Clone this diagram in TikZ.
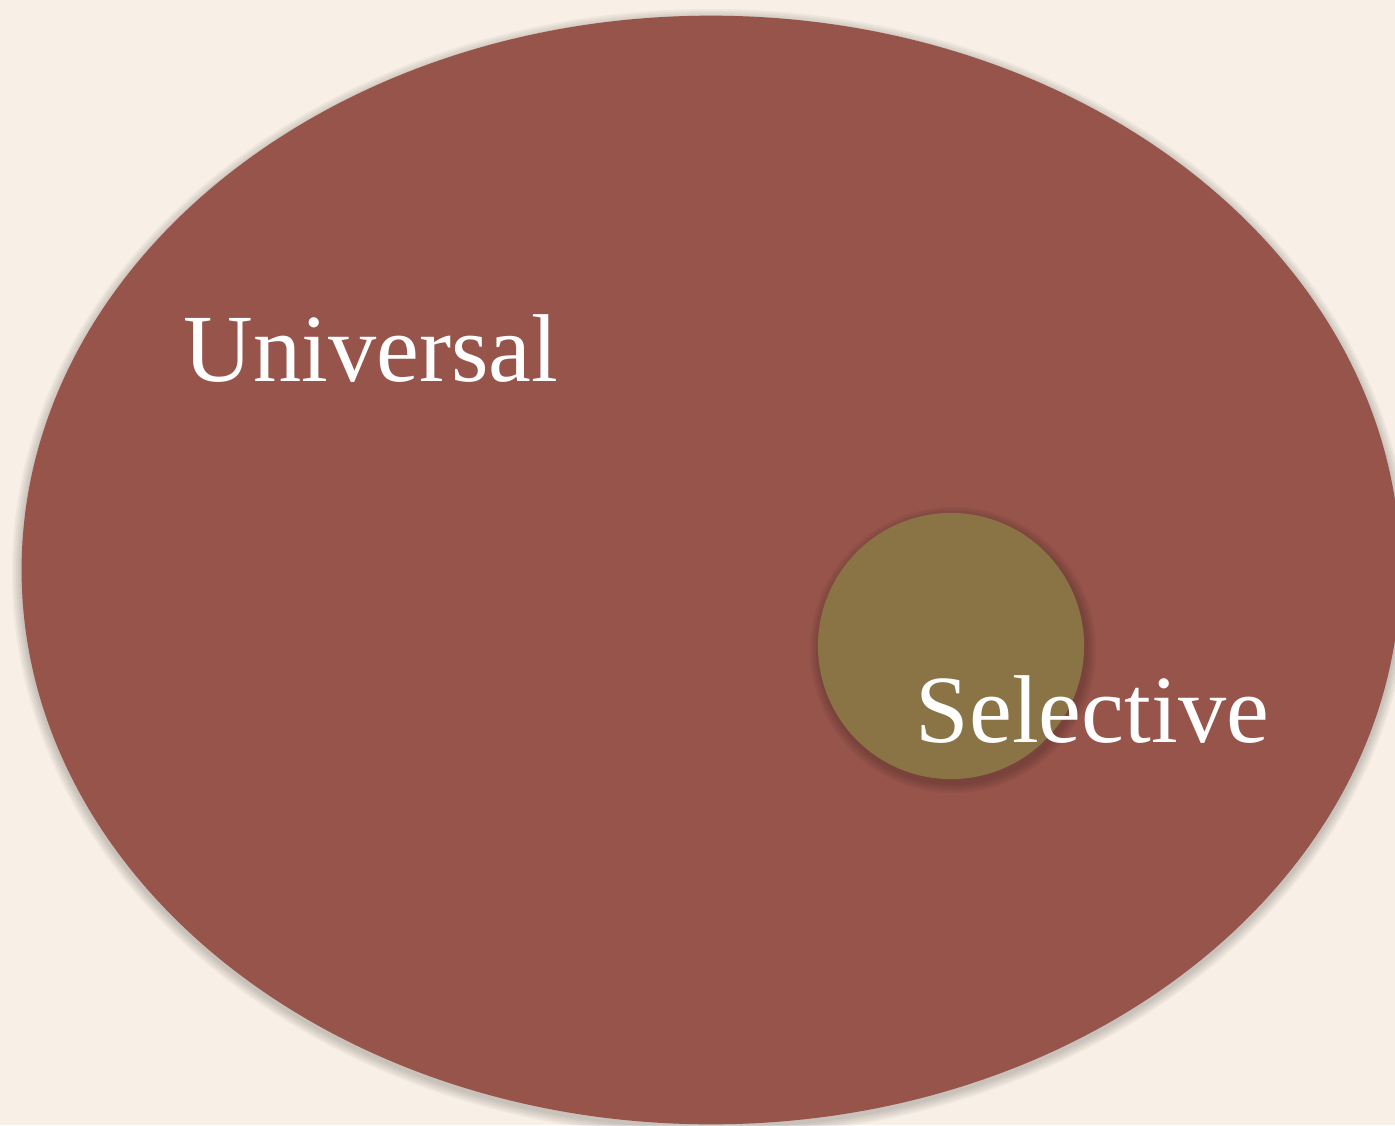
\documentclass[tikz,border=0pt]{standalone}
\usepackage{fontspec}
\setmainfont{Liberation Serif}
\usetikzlibrary{shapes.geometric}
\definecolor{bgcream}{HTML}{F8F0E6}
\definecolor{univred}{HTML}{96544A}
\definecolor{selgold}{HTML}{8A7446}
\tikzset{
  lbl/.style={text=white, font=\fontsize{27.4}{33}\selectfont, inner sep=0pt, anchor=base west},
  shadowlayer/.style={fill=black, opacity=0.04, draw=none},
}
\begin{document}
\begin{tikzpicture}[x=0.01cm, y=-0.01cm]
\useasboundingbox (0,0) rectangle (1395,1125);
\clip (0,0) rectangle (1395,1125);
\fill[bgcream] (0,0) rectangle (1395,1125);
% soft shadow of the big ellipse
\foreach \d in {2,4,6,8,10} {
  \fill[shadowlayer] (711,573) ellipse ({689+\d} and {554+\d});
}
\node[ellipse, fill=univred, minimum width=13.78cm, minimum height=11.08cm, inner sep=0pt] (universal) at (711,570) {};
% soft shadow of the small circle
\foreach \d in {2,4,6,8,10} {
  \fill[shadowlayer] (953,650) circle ({133+\d});
}
\node[circle, fill=selgold, minimum size=2.66cm, inner sep=0pt] (selective) at (951,646) {};
\node[lbl] (ulabel) at (183,382) {Universal};
\node[lbl] (slabel) at (915,742) {Selective};
\end{tikzpicture}
\end{document}
